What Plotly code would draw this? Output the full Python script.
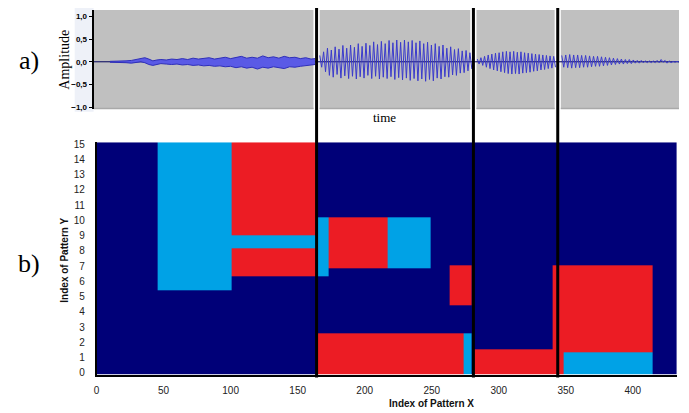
import numpy as np
import plotly.graph_objects as go

# ---------------- data ----------------
# Panel a) waveform (time in the same units as "Index of Pattern X")
seg1_t = [10, 14, 18, 22, 26, 30, 33, 36, 39, 42, 45, 48, 52, 56, 60, 64, 68, 72, 76, 80, 84,
          88, 92, 96, 100, 104, 108, 112, 116, 120, 124, 128, 132, 136, 140, 144, 148, 152,
          156, 160, 163]
seg1_up = [0.01, 0.01, 0.02, 0.02, 0.03, 0.05, 0.08, 0.09, 0.06, 0.02, 0.04, 0.05, 0.04, 0.06,
           0.05, 0.07, 0.05, 0.08, 0.06, 0.07, 0.09, 0.06, 0.08, 0.10, 0.07, 0.09, 0.12, 0.08,
           0.10, 0.08, 0.13, 0.09, 0.11, 0.08, 0.12, 0.09, 0.10, 0.07, 0.09, 0.06, 0.07]
seg1_lo = [-0.01, -0.01, -0.02, -0.02, -0.03, -0.02, 0.0, -0.02, -0.06, -0.08, -0.06, -0.04,
           -0.05, -0.06, -0.05, -0.07, -0.06, -0.08, -0.07, -0.09, -0.08, -0.10, -0.09, -0.11,
           -0.10, -0.13, -0.11, -0.14, -0.12, -0.16, -0.12, -0.14, -0.11, -0.13, -0.15, -0.11,
           -0.12, -0.10, -0.09, -0.07, -0.06]

seg2_span = [166.5, 278.5]
seg2_up = [0.14, 0.22, 0.30, 0.26, 0.33, 0.28, 0.36, 0.30, 0.37, 0.32, 0.40, 0.34, 0.41, 0.36,
           0.44, 0.38, 0.45, 0.40, 0.47, 0.42, 0.48, 0.43, 0.48, 0.44, 0.47, 0.42, 0.46, 0.40,
           0.43, 0.37, 0.40, 0.34, 0.37, 0.30, 0.33, 0.27, 0.29, 0.24, 0.25, 0.20]
seg2_lo = [-0.12, -0.22, -0.30, -0.34, -0.28, -0.36, -0.31, -0.37, -0.32, -0.38, -0.33, -0.36,
           -0.30, -0.37, -0.32, -0.38, -0.34, -0.37, -0.33, -0.39, -0.35, -0.40, -0.36, -0.41,
           -0.37, -0.42, -0.38, -0.43, -0.39, -0.42, -0.36, -0.38, -0.33, -0.34, -0.29, -0.30,
           -0.25, -0.24, -0.20, -0.16]

seg3_span = [284.0, 341.0]
seg3_up = [0.06, 0.09, 0.12, 0.15, 0.17, 0.19, 0.20, 0.22, 0.23, 0.22, 0.23, 0.21, 0.22, 0.20,
           0.19, 0.18, 0.17, 0.16, 0.15, 0.14, 0.13, 0.12]
seg3_lo = [-0.05, -0.08, -0.12, -0.15, -0.18, -0.20, -0.22, -0.24, -0.26, -0.27, -0.26, -0.27,
           -0.25, -0.24, -0.23, -0.21, -0.20, -0.18, -0.17, -0.15, -0.14, -0.12]

seg4_span = [347.0, 433.0]
seg4_up = [0.14, 0.15, 0.16, 0.15, 0.15, 0.14, 0.14, 0.13, 0.12, 0.12, 0.11, 0.10, 0.09, 0.08,
           0.07, 0.06, 0.05, 0.05, 0.04, 0.03, 0.03, 0.02, 0.02, 0.02, 0.03, 0.05, 0.03, 0.02,
           0.01, 0.01]
seg4_lo = [-0.12, -0.13, -0.14, -0.13, -0.13, -0.12, -0.12, -0.11, -0.10, -0.10, -0.09, -0.08,
           -0.07, -0.06, -0.05, -0.05, -0.04, -0.04, -0.03, -0.03, -0.02, -0.02, -0.02, -0.02,
           -0.02, -0.01, -0.03, -0.02, -0.01, -0.01]

amp_ticks = [-1.0, -0.5, 0.0, 0.5, 1.0]

# Segment boundaries (black vertical lines), in pattern-X units
boundaries = [164.1, 281.1, 344.0]

# Panel b) pattern regions: x0, x1, y0, y1, class (1 = light blue, 2 = red)
X_MIN, X_MAX = 0.0, 433.0
Y_MIN, Y_MAX = -0.13, 15.13
reg_x0 = [45.3, 101.0, 101.0, 101.0, 165.0, 173.0, 217.0, 263.5, 165.0, 274.0, 281.5, 340.5, 348.0]
reg_x1 = [101.0, 165.0, 165.0, 165.0, 173.0, 217.0, 249.5, 280.0, 274.0, 280.0, 340.5, 414.6, 414.6]
reg_y0 = [5.4, 9.0, 8.2, 6.35, 6.35, 6.87, 6.87, 4.4, Y_MIN, Y_MIN, Y_MIN, Y_MIN, Y_MIN]
reg_y1 = [Y_MAX, Y_MAX, 9.0, 8.2, 10.2, 10.2, 10.2, 7.04, 2.58, 2.58, 1.57, 7.04, 1.33]
reg_cls = [1, 2, 1, 2, 1, 2, 1, 2, 2, 1, 2, 2, 1]

x_ticks = [0, 50, 100, 150, 200, 250, 300, 350, 400]
y_ticks = list(range(0, 16))

NAVY, LBLUE, RED = "#000078", "#00A2E6", "#EC1C24"

# ---------------- figure geometry ----------------
W, H = 689, 413
def px(x):
    return x / W
def py(y):
    return (H - y) / H

fig = go.Figure()

# ---- heatmap grid built from the regions ----
xe = sorted(set([X_MIN, X_MAX] + reg_x0 + reg_x1))
ye = sorted(set([Y_MIN, Y_MAX] + reg_y0 + reg_y1))
xc = [(a + b) / 2 for a, b in zip(xe[:-1], xe[1:])]
yc = [(a + b) / 2 for a, b in zip(ye[:-1], ye[1:])]
z = np.zeros((len(yc), len(xc)))
for x0, x1, y0, y1, c in zip(reg_x0, reg_x1, reg_y0, reg_y1, reg_cls):
    for j, cx in enumerate(xc):
        if x0 <= cx <= x1:
            for i, cy in enumerate(yc):
                if y0 <= cy <= y1:
                    z[i, j] = c

fig.add_trace(go.Heatmap(
    x=xe, y=ye, z=z, zmin=0, zmax=2, showscale=False, hoverinfo="skip",
    colorscale=[[0, NAVY], [0.333, NAVY], [0.334, LBLUE], [0.666, LBLUE], [0.667, RED], [1, RED]],
    xaxis="x", yaxis="y"))

# ---- waveform ----
WAVE_LINE = "#2f2fb8"
fig.add_trace(go.Scatter(x=[-2.2, 434.5], y=[0, 0], mode="lines",
                         line=dict(color="#00005a", width=1), xaxis="x2", yaxis="y2",
                         hoverinfo="skip", showlegend=False))
fig.add_trace(go.Scatter(x=seg1_t, y=seg1_lo, mode="lines", line=dict(color=WAVE_LINE, width=1),
                         xaxis="x2", yaxis="y2", hoverinfo="skip", showlegend=False))
fig.add_trace(go.Scatter(x=seg1_t, y=seg1_up, mode="lines", line=dict(color=WAVE_LINE, width=1),
                         fill="tonexty", fillcolor="#5a5ae6",
                         xaxis="x2", yaxis="y2", hoverinfo="skip", showlegend=False))

for span, up, lo in [(seg2_span, seg2_up, seg2_lo), (seg3_span, seg3_up, seg3_lo),
                     (seg4_span, seg4_up, seg4_lo)]:
    t = np.linspace(span[0], span[1], len(up))
    dt = (t[1] - t[0]) / 2
    xs, ys = [], []
    for ti, u, l in zip(t, up, lo):
        xs += [ti, ti + dt]
        ys += [u, l]
    fig.add_trace(go.Scatter(x=xs, y=ys, mode="lines", line=dict(color="#3a3acc", width=1),
                             xaxis="x2", yaxis="y2", hoverinfo="skip", showlegend=False))

# ---- shapes ----
shapes = []
# light background behind amplitude tick labels
shapes.append(dict(type="rect", xref="paper", yref="paper", x0=px(72), x1=px(91),
                   y0=py(110), y1=py(4), fillcolor="#eef1f8", line=dict(width=0), layer="below"))
# gray waveform background, broken at the boundaries
gap = 2.3
edges = [-2.2] + [v for b in boundaries for v in (b - gap, b + gap)] + [434.5]
for a, b in zip(edges[0::2], edges[1::2]):
    shapes.append(dict(type="rect", xref="x2", yref="y2 domain", x0=a, x1=b, y0=0, y1=1,
                       fillcolor="#c0c0c0", line=dict(width=0), layer="below"))
    shapes.append(dict(type="line", xref="x2", yref="y2 domain", x0=a, x1=b, y0=0.005, y1=0.005,
                       line=dict(color="#a9a9a9", width=1.5), layer="below"))
# black segment boundaries through both panels
for b in boundaries:
    shapes.append(dict(type="line", xref="x", yref="paper", x0=b, x1=b, y0=py(381), y1=py(4),
                       line=dict(color="black", width=3)))

# ---- annotations ----
serif = "Liberation Serif, DejaVu Serif, serif"
sans = "Liberation Sans, Arial, sans-serif"
ann = [
    dict(text="a)", x=px(26), y=py(58), font=dict(family=serif, size=26, color="black")),
    dict(text="b)", x=px(26), y=py(265), font=dict(family=serif, size=26, color="black")),
    dict(text="Amplitude", x=px(62), y=py(57), textangle=-90,
         font=dict(family=serif, size=14, color="black")),
    dict(text="time", x=px(383), y=py(116), font=dict(family=serif, size=13, color="black")),
    dict(text="<b>Index of Pattern Y</b>", x=px(62), y=py(261), textangle=-90,
         font=dict(family=sans, size=10, color="#111")),
    dict(text="<b>Index of Pattern X</b>", x=px(430), y=py(407),
         font=dict(family=sans, size=10, color="#111")),
]
for a in ann:
    a.update(xref="paper", yref="paper", showarrow=False, xanchor="center", yanchor="middle")

fig.update_layout(
    width=W, height=H, margin=dict(l=0, r=0, t=0, b=0),
    paper_bgcolor="white", plot_bgcolor="rgba(0,0,0,0)",
    separators=",.", showlegend=False,
    shapes=shapes, annotations=ann,
    xaxis=dict(domain=[px(94), px(677)], range=[X_MIN, X_MAX], anchor="y",
               tickvals=x_ticks, showgrid=False, zeroline=False,
               showline=True, linecolor="black", linewidth=1.5,
               ticks="", ticklabelstandoff=6,
               tickfont=dict(family=sans, size=10, color="#222")),
    yaxis=dict(domain=[py(378), py(141)], range=[Y_MIN, Y_MAX], anchor="x",
               tickvals=y_ticks, showgrid=False, zeroline=False,
               showline=True, linecolor="black", linewidth=1.5,
               ticks="", ticklabelstandoff=8,
               tickfont=dict(family=sans, size=10, color="#222")),
    xaxis2=dict(domain=[px(91), px(679)], range=[-2.2, 434.5], anchor="y2",
                showticklabels=False, showgrid=False, zeroline=False, showline=False, ticks=""),
    yaxis2=dict(domain=[py(107), py(6)], range=[-1.04, 1.145], anchor="x2",
                tickvals=amp_ticks, tickformat=".1f", showgrid=False, zeroline=False,
                showline=True, linecolor="black", linewidth=2,
                ticks="outside", ticklen=3, tickcolor="black", tickwidth=1,
                tickfont=dict(family=sans, size=8, color="black", weight="bold")),
)

fig.write_html("out.html", config={"displayModeBar": False},
               post_script="document.body.style.margin='0';")
